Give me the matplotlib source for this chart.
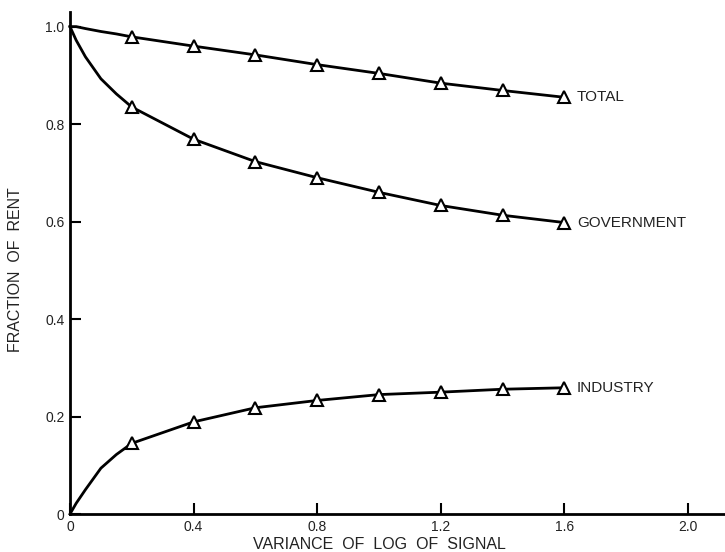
import matplotlib
matplotlib.use("Agg")
import matplotlib.pyplot as plt

plt.rcParams['font.family'] = ['Liberation Sans', 'DejaVu Sans']

x = [0.0, 0.02, 0.05, 0.1, 0.15, 0.2, 0.4, 0.6, 0.8, 1.0, 1.2, 1.4, 1.6]
total = [1.0, 1.0, 0.996, 0.990, 0.985, 0.979, 0.960, 0.942, 0.922, 0.904, 0.884, 0.869, 0.855]
government = [1.0, 0.972, 0.938, 0.893, 0.862, 0.835, 0.769, 0.723, 0.690, 0.660, 0.633, 0.613, 0.598]
industry = [0.0, 0.022, 0.050, 0.094, 0.122, 0.145, 0.189, 0.218, 0.233, 0.245, 0.250, 0.256, 0.259]
series_names = ["TOTAL", "GOVERNMENT", "INDUSTRY"]
x_ticks = [0, 0.4, 0.8, 1.2, 1.6, 2.0]
x_ticklabels = ["0", "0.4", "0.8", "1.2", "1.6", "2.0"]
y_ticks = [0, 0.2, 0.4, 0.6, 0.8, 1.0]
y_ticklabels = ["0", "0.2", "0.4", "0.6", "0.8", "1.0"]

text_color = '#222222'

fig = plt.figure(figsize=(7.25, 5.52), dpi=100)
ax = fig.add_axes([70/725, 1-514/552, 1-70/725, (514-12)/552])

first_marker = x.index(0.2)
for ys, name in zip([total, government, industry], series_names):
    ax.plot(x, ys, color='black', lw=2.0, marker='^',
            markevery=list(range(first_marker, len(x))),
            markersize=9, markerfacecolor='white', markeredgecolor='black',
            markeredgewidth=1.5, clip_on=False, zorder=3, solid_joinstyle='round')
    ax.annotate(name, xy=(x[-1], ys[-1]), xytext=(9, 0), textcoords='offset points',
                va='center', ha='left', fontsize=11, color=text_color)

ax.set_xlim(0, 2.12)
ax.set_ylim(0, 1.03)
ax.set_xticks(x_ticks)
ax.set_xticklabels(x_ticklabels)
ax.set_yticks(y_ticks)
ax.set_yticklabels(y_ticklabels)
ax.tick_params(direction='in', length=8, width=1.5, labelsize=10, color='black',
               labelcolor=text_color, pad=4)
for s in ['top', 'right']:
    ax.spines[s].set_visible(False)
for s in ['left', 'bottom']:
    ax.spines[s].set_linewidth(2.0)

ax.set_xlabel("VARIANCE  OF  LOG  OF  SIGNAL", fontsize=11.5, color=text_color)
ax.xaxis.set_label_coords(0.473, -0.045)
ax.set_ylabel("FRACTION  OF  RENT", fontsize=11.5, color=text_color)
ax.yaxis.set_label_coords(-0.072, 0.486)

fig.savefig("out.png", dpi=100)
